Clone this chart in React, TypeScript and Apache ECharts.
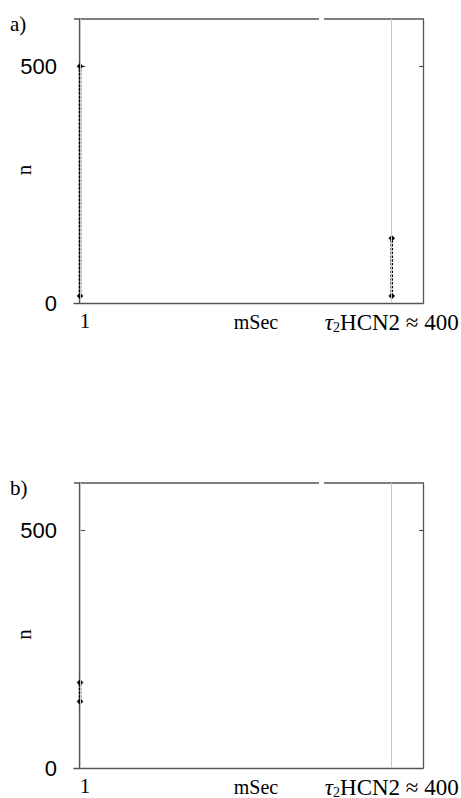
import React, { useEffect, useRef } from "react";
import * as echarts from "echarts";

const panelLabels = ["a)", "b)"];
const xTickValues = [1, 400];
const yTickValues = [0, 500];
const xName = "mSec";
const yName = "n";
const panelAData1 = [[1, 15], [1, 500]];
const panelAData2 = [[400, 15], [400, 137]];
const panelBData1 = [[1, 140], [1, 180]];

const SANS = "Liberation Sans";
const SERIF = "Liberation Serif";
const AXIS = "#555";
const GRIDLINE = "#c8c8c8";

export default function App() {
  const ref = useRef<HTMLDivElement>(null);
  useEffect(() => {
    if (!ref.current) return;
    const chart = echarts.init(ref.current, null, { renderer: "svg" });
    const grids = [
      { left: 74, top: 19, width: 349, height: 284, outerBoundsMode: "none", containLabel: false },
      { left: 74, top: 483, width: 349, height: 285, outerBoundsMode: "none", containLabel: false },
    ];
    const xAxes: any[] = [];
    const yAxes: any[] = [];
    grids.forEach((g, i) => {
      xAxes.push({
        type: "value",
        gridIndex: i,
        min: -6.7,
        max: 440,
        position: "bottom",
        axisLine: { show: true, lineStyle: { color: AXIS, width: 1.3 } },
        axisTick: { show: false },
        splitLine: { show: false },
        name: xName,
        nameLocation: "middle",
        nameGap: 9,
        nameMoveOverlap: false,
        nameTextStyle: {
          fontFamily: SERIF,
          fontSize: 20,
          color: "#000",
          padding: [0, 0, 0, 15],
          verticalAlign: "top",
          lineHeight: 20,
        },
        axisLabel: {
          customValues: xTickValues,
          margin: 7,
          formatter: (v: number) => (v === 1 ? "{one|1}" : "{tau|τ}{s|2}{t|HCN2 ≈ 400}"),
          rich: {
            one: { fontFamily: SERIF, fontSize: 21, color: "#000", padding: [0, 0, 0, 10] },
            tau: { fontFamily: SERIF, fontSize: 23, color: "#000", fontStyle: "italic" },
            t: { fontFamily: SERIF, fontSize: 23, color: "#000" },
            s: { fontFamily: SERIF, fontSize: 14, color: "#000", verticalAlign: "bottom", padding: [10, 0, 0, 0] },
          },
        },
      });
      yAxes.push({
        type: "value",
        gridIndex: i,
        min: 0,
        max: 600,
        position: "left",
        axisLine: { show: true, lineStyle: { color: AXIS, width: 1.3 } },
        axisTick: { show: true, inside: true, length: 6, customValues: [500], lineStyle: { color: AXIS, width: 1.2 } },
        splitLine: { show: false },
        name: yName,
        nameLocation: "middle",
        nameGap: 40,
        nameRotate: 90,
        nameMoveOverlap: false,
        nameTextStyle: { fontFamily: SERIF, fontSize: 21, color: "#000", padding: [0, 18, 0, 0] },
        axisLabel: {
          customValues: yTickValues,
          margin: 17,
          fontFamily: SANS,
          fontSize: 22,
          color: "#000",
        },
      });
      yAxes.push({
        type: "value",
        gridIndex: i,
        min: 0,
        max: 600,
        position: "right",
        axisLine: { show: true, lineStyle: { color: AXIS, width: 1.3 } },
        axisTick: { show: true, inside: true, length: 4, customValues: [500], lineStyle: { color: AXIS, width: 1.2 } },
        axisLabel: { show: false },
        splitLine: { show: false },
      });
    });

    const vLines = {
      silent: true,
      symbol: "none",
      label: { show: false },
      lineStyle: { color: GRIDLINE, width: 1, type: "solid" },
      data: xTickValues.map((v) => ({ xAxis: v })),
    };
    const dotted = (data: number[][], xi: number, yi: number, withLines: boolean) => ({
      type: "line",
      xAxisIndex: xi,
      yAxisIndex: yi,
      data,
      symbol: "diamond",
      symbolSize: 6,
      showSymbol: true,
      itemStyle: { color: "#000", borderColor: "#000", borderWidth: 0.5 },
      lineStyle: { color: "#000", width: 2.6, type: [2.4, 1.4] },
      markLine: withLines ? vLines : undefined,
      z: 3,
    });

    const graphics: any[] = [];
    grids.forEach((g, i) => {
      graphics.push({
        type: "text",
        left: 10,
        top: g.top - 6,
        style: { text: panelLabels[i], fontFamily: SERIF, fontSize: 21, fill: "#000" },
      });
      graphics.push({
        type: "line",
        shape: { x1: g.left, y1: g.top, x2: 319, y2: g.top },
        style: { stroke: AXIS, lineWidth: 1.3 },
      });
      graphics.push({
        type: "line",
        shape: { x1: 324, y1: g.top, x2: g.left + g.width, y2: g.top },
        style: { stroke: AXIS, lineWidth: 1.3 },
      });
    });

    chart.setOption({
      animation: false,
      backgroundColor: "#fff",
      grid: grids,
      xAxis: xAxes,
      yAxis: yAxes,
      series: [
        dotted(panelAData1, 0, 0, true),
        dotted(panelAData2, 0, 0, false),
        dotted(panelBData1, 1, 2, true),
      ],
      graphic: graphics,
    });
    return () => chart.dispose();
  }, []);
  return (
    <div
      ref={ref}
      style={{ position: "fixed", left: 0, top: 0, width: 461, height: 798, background: "#fff" }}
    />
  );
}
